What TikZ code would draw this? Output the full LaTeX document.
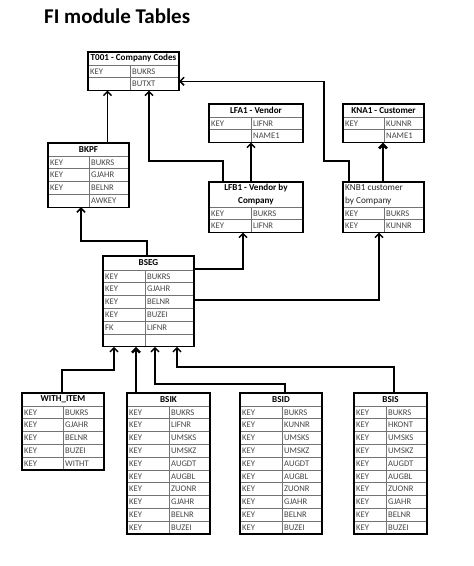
\documentclass[tikz,border=0pt]{standalone}
\usepackage{fontspec}
\setmainfont{Carlito}
\usetikzlibrary{arrows.meta}
\tikzset{
 tblbox/.style={draw=black, line width=1.1pt},
 gridline/.style={draw=black!55, line width=0.7pt},
 cell/.style={inner sep=0pt, anchor=west, text=black!72, font=\fontsize{8.6}{10}\selectfont},
 hdr/.style={inner sep=0pt, font=\bfseries\fontsize{9.1}{13}\selectfont, align=center},
 conn/.style={draw=black, line width=1.5pt, -{Straight Barb[length=4pt,width=8pt]}},
 thickconn/.style={conn, line width=2.6pt},
}
\newcommand\rowh{12.8}
\newcommand\mytable[9]{%
  \pgfmathsetmacro\tblh{#6+#9*\rowh}
  \node[minimum width=#4pt, minimum height=\tblh pt, anchor=north west, inner sep=0pt, outer sep=0pt] (#1) at (#2,#3) {};
  \foreach \lc/\rc [count=\i] in {#8} {
    \pgfmathsetmacro\yy{#3+#6+(\i-1)*\rowh}
    \draw[gridline] (#2,\yy) -- ++(#4,0);
    \node[cell] at (#2+2,\yy+\rowh/2) {\lc};
    \node[cell] at (#2+#5+2,\yy+\rowh/2) {\rc};
  }
  \draw[gridline] (#2+#5,#3+#6) -- (#2+#5,#3+\tblh);
  \node[hdr] at (#2+#4/2,#3+#6/2) {#7};
  \draw[tblbox] (#1.north west) rectangle (#1.south east);
}
\begin{document}
\begin{tikzpicture}[x=1pt,y=-1pt]
\useasboundingbox[fill=white] (0,0) rectangle (474,566);
\node[anchor=base west, inner sep=0pt, font=\bfseries\fontsize{21}{24}\selectfont] (title) at (44,23) {FI module Tables};

\mytable{t001}{88}{52}{91}{42}{13}{T001 - Company Codes}{KEY/BUKRS,{}/BUTXT}{2}
\mytable{lfa1}{209}{104}{94}{42}{13}{LFA1 - Vendor}{KEY/LIFNR,{}/NAME1}{2}
\mytable{kna1}{343}{104}{81}{41}{13}{KNA1 - Customer}{KEY/KUNNR,{}/NAME1}{2}
\mytable{bkpf}{48}{143}{81}{41}{13}{BKPF}{KEY/BUKRS,KEY/GJAHR,KEY/BELNR,{}/AWKEY}{4}
\mytable{lfb1}{209}{182}{94}{42}{25}{LFB1 - Vendor by\\Company}{KEY/BUKRS,KEY/LIFNR}{2}
\mytable{knb1}{343}{182}{81}{41}{25}{}{KEY/BUKRS,KEY/KUNNR}{2}
\node[anchor=north west, inner sep=0pt, align=left, text=black!85, font=\fontsize{9.2}{12.5}\selectfont] (knb1hdr) at (345,184.5) {KNB1 customer\\by Company};
\mytable{bseg}{103}{256}{91}{42}{14}{BSEG}{KEY/BUKRS,KEY/GJAHR,KEY/BELNR,KEY/BUZEI,FK/LIFNR,{}/{}}{6}
\mytable{withitem}{22}{393}{82}{41}{13}{WITH\_ITEM}{KEY/BUKRS,KEY/GJAHR,KEY/BELNR,KEY/BUZEI,KEY/WITHT}{5}
\mytable{bsik}{127}{393}{83}{42}{13}{BSIK}{KEY/BUKRS,KEY/LIFNR,KEY/UMSKS,KEY/UMSKZ,KEY/AUGDT,KEY/AUGBL,KEY/ZUONR,KEY/GJAHR,KEY/BELNR,KEY/BUZEI}{10}
\mytable{bsid}{240}{393}{82}{42}{13}{BSID}{KEY/BUKRS,KEY/KUNNR,KEY/UMSKS,KEY/UMSKZ,KEY/AUGDT,KEY/AUGBL,KEY/ZUONR,KEY/GJAHR,KEY/BELNR,KEY/BUZEI}{10}
\mytable{bsis}{354}{393}{73}{32}{13}{BSIS}{KEY/BUKRS,KEY/HKONT,KEY/UMSKS,KEY/UMSKZ,KEY/AUGDT,KEY/AUGBL,KEY/ZUONR,KEY/GJAHR,KEY/BELNR,KEY/BUZEI}{10}

% connectors
\draw[conn] ([xshift=59.5pt]bkpf.north west) -- ([xshift=19.5pt]t001.south west);
\draw[conn] ([xshift=14pt]lfb1.north west) -- ++(0,-21) -| ([xshift=61pt]t001.south west);
\draw[conn] ([xshift=6pt]knb1.north west) -- ++(0,-21) -- ++(-25,0) |- ([yshift=-10pt]t001.east);
\draw[conn] ([xshift=42pt]lfb1.north west) -- ([xshift=42pt]lfa1.south west);
\draw[thickconn] ([xshift=40pt]knb1.north west) -- ([xshift=40pt]kna1.south west);
\draw[conn] ([xshift=44pt]bseg.north west) -- ++(0,-15) -| ([xshift=33pt]bkpf.south west);
\draw[conn] ([yshift=-13pt]bseg.north east) -| ([xshift=34pt]lfb1.south west);
\draw[conn] ([yshift=-44pt]bseg.north east) -| ([xshift=36pt]knb1.south west);
\draw[conn] ([xshift=40pt]withitem.north west) -- ++(0,-23) -| ([xshift=11pt]bseg.south west);
\draw[thickconn] ([xshift=9pt]bsik.north west) -- ([xshift=33pt]bseg.south west);
\draw[conn] ([xshift=45pt]bsid.north west) -- ++(0,-9) -| ([xshift=52pt]bseg.south west);
\draw[conn] ([xshift=40pt]bsis.north west) -- ++(0,-26) -| ([xshift=74pt]bseg.south west);
\end{tikzpicture}
\end{document}
